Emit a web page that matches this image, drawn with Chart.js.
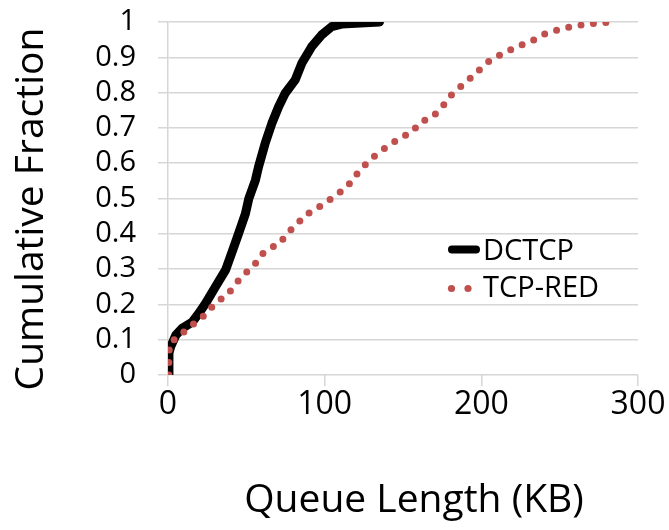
<!DOCTYPE html>
<html>
<head>
<meta charset="utf-8">
<script src="https://cdn.jsdelivr.net/npm/chart.js@4/dist/chart.umd.min.js"></script>
<style>
  html, body { margin: 0; padding: 0; background: #fff; }
  #wrap { width: 669px; height: 530px; }
</style>
</head>
<body>
<div id="wrap"><canvas id="chart" width="669" height="530"></canvas></div>
<script>
// DCTCP queue length CDF (KB, cumulative fraction)
const dctcpKB = [0, 0.6, 1.7, 5, 9, 15.5, 19.7, 24, 30.3, 36.7, 41, 45, 49.4, 51.6, 55.8, 57.8, 62, 66.3, 70.6, 74.8, 81.2, 85.4, 91.7, 98, 104.5, 110.8, 135]
const dctcpFrac = [0, 0.062, 0.08, 0.113, 0.132, 0.15, 0.175, 0.203, 0.25, 0.297, 0.35, 0.40, 0.457, 0.50, 0.552, 0.59, 0.656, 0.713, 0.76, 0.798, 0.836, 0.883, 0.93, 0.963, 0.987, 0.994, 1]

// TCP-RED queue length CDF
const redKB = [0.5, 0.5, 1, 7, 13.9, 21.3, 26.7, 32, 38, 42.9, 48.6, 55, 59.3, 65, 71.6, 75.7, 81.7, 87, 93.8, 101.5, 107.3, 114.3, 118.5, 123.7, 128.6, 135, 140.7, 148.2, 155.6, 161.4, 168.7, 174.8, 179.6, 184.9, 190.8, 197.5, 203.6, 210.9, 218.1, 225.6, 233.9, 240.9, 250.3, 259.9, 269.5, 279.7]
const redFrac = [0, 0.042, 0.09, 0.11, 0.137, 0.16, 0.187, 0.21, 0.227, 0.257, 0.285, 0.31, 0.34, 0.359, 0.373, 0.401, 0.423, 0.451, 0.469, 0.491, 0.51, 0.532, 0.559, 0.585, 0.609, 0.631, 0.65, 0.671, 0.688, 0.717, 0.731, 0.758, 0.788, 0.81, 0.832, 0.859, 0.885, 0.904, 0.92, 0.935, 0.95, 0.967, 0.98, 0.989, 0.995, 0.999]

const xTicks = [0, 100, 200, 300]
const yTicks = [0, 0.1, 0.2, 0.3, 0.4, 0.5, 0.6, 0.7, 0.8, 0.9, 1]

const seriesNames = ['DCTCP', 'TCP-RED']
const xTitle = 'Queue Length (KB)'
const yTitle = 'Cumulative Fraction'

const FONT = '"Open Sans", sans-serif'
const RED = '#C0504D'
const GRID = '#d6d6d6'

function toPoints(xs, ys) {
    return xs.map((x, i) => ({ x: x, y: ys[i] }))
}

// legend and axis titles, drawn by hand like the Excel original
const decorations = {
    id: 'decorations',
    afterDatasetsDraw(chart) {
        const ctx = chart.ctx
        const a = chart.chartArea
        ctx.save()

        // legend
        const lx = a.left + 284
        const y1 = a.top + 227.5
        const y2 = a.top + 266.5
        ctx.strokeStyle = '#000'
        ctx.lineWidth = 8
        ctx.lineCap = 'round'
        ctx.beginPath()
        ctx.moveTo(lx, y1)
        ctx.lineTo(lx + 24, y1)
        ctx.stroke()
        ctx.fillStyle = RED
        ;[lx - 0.5, lx + 16].forEach(cx => {
            ctx.beginPath()
            ctx.arc(cx, y2, 3.6, 0, Math.PI * 2)
            ctx.fill()
        })
        ctx.fillStyle = '#000'
        ctx.font = '29px ' + FONT
        ctx.textAlign = 'left'
        ctx.textBaseline = 'alphabetic'
        ctx.fillText(seriesNames[0], lx + 31, a.top + 238)
        ctx.fillText(seriesNames[1], lx + 31, a.top + 275)

        // axis titles
        ctx.font = '39px ' + FONT
        ctx.textAlign = 'center'
        ctx.fillText(xTitle, 414, 512)
        ctx.translate(43, 209)
        ctx.rotate(-Math.PI / 2)
        ctx.fillText(yTitle, 0, 0)
        ctx.restore()
    }
}

new Chart(document.getElementById('chart'), {
    type: 'scatter',
    data: {
        datasets: [
            {
                label: seriesNames[1],
                data: toPoints(redKB, redFrac),
                showLine: true,
                borderColor: RED,
                borderWidth: 7,
                borderDash: [0, 12.5],
                borderCapStyle: 'round',
                pointRadius: 0,
                tension: 0,
                order: 0
            },
            {
                label: seriesNames[0],
                data: toPoints(dctcpKB, dctcpFrac),
                showLine: true,
                borderColor: '#000',
                borderWidth: 9,
                borderJoinStyle: 'round',
                borderCapStyle: 'round',
                pointRadius: 0,
                tension: 0,
                order: 1
            }
        ]
    },
    options: {
        responsive: false,
        animation: false,
        layout: {
            padding: { left: 0, top: 22, right: 31, bottom: 0 }
        },
        scales: {
            x: {
                type: 'linear',
                min: 0,
                max: 300,
                afterBuildTicks: scale => { scale.ticks = xTicks.map(v => ({ value: v })) },
                afterFit: scale => { scale.height = 155 },
                grid: {
                    drawOnChartArea: false,
                    drawTicks: true,
                    tickLength: 11,
                    color: GRID,
                    lineWidth: 1.5
                },
                border: { display: false },
                ticks: {
                    color: '#000',
                    padding: 0,
                    font: { family: FONT, size: 32 },
                    maxRotation: 0,
                    autoSkip: false
                }
            },
            y: {
                min: 0,
                max: 1,
                afterBuildTicks: scale => { scale.ticks = yTicks.map(v => ({ value: v })) },
                afterFit: scale => {
                    scale.width = 168
                    // the label padding should not push the plot area down
                    scale.paddingTop = 0
                    scale.paddingBottom = 0
                },
                grid: {
                    color: GRID,
                    lineWidth: 1.5,
                    tickLength: 10
                },
                border: { display: true, color: GRID, width: 1.5 },
                ticks: {
                    color: '#000',
                    padding: 22,
                    font: { family: FONT, size: 29 },
                    autoSkip: false,
                    callback: v => String(v)
                }
            }
        },
        plugins: {
            legend: { display: false },
            tooltip: { enabled: false }
        }
    },
    plugins: [decorations]
});
</script>
</body>
</html>
